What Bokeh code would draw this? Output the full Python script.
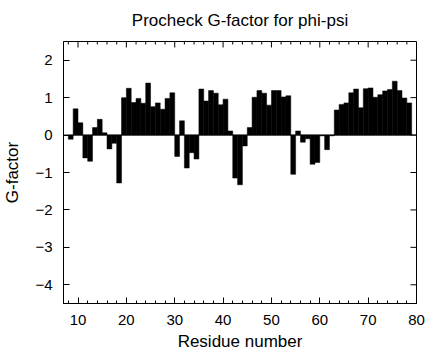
import math
from bokeh.plotting import figure
from bokeh.models import Range1d, FixedTicker, Span, ColumnDataSource
from bokeh.embed import file_html
from bokeh.resources import INLINE

# Residue numbers (each bar spans residue -> residue+1)
residues = list(range(8, 79))
# Procheck G-factor (phi-psi) per residue
gfactor = [
    -0.11, 0.70, 0.33, -0.61, -0.70, 0.20, 0.42, 0.06, -0.37, -0.22,
    -1.28, 1.00, 1.25, 0.87, 0.98, 0.85, 1.39, 0.76, 0.86, 0.69,
    0.98, 1.13, -0.57, 0.38, -0.88, -0.47, -0.64, 1.23, 0.91, 1.19,
    1.12, 0.81, 0.96, 0.11, -1.15, -1.33, -0.29, 0.20, 1.01, 1.19,
    1.12, 0.80, 1.19, 1.19, 1.02, 1.05, -1.05, 0.11, -0.19, -0.10,
    -0.78, -0.73, -0.02, -0.39, -0.02, 0.67, 0.82, 0.86, 1.13, 1.23,
    0.73, 1.24, 1.26, 1.01, 1.08, 1.18, 1.22, 1.44, 1.19, 0.99,
    0.86,
]
x_major = [10, 20, 30, 40, 50, 60, 70, 80]
x_minor = [8, 12, 14, 16, 18, 22, 24, 26, 28, 32, 34, 36, 38, 42, 44, 46, 48,
           52, 54, 56, 58, 62, 64, 66, 68, 72, 74, 76, 78]
y_ticks = [-4, -3, -2, -1, 0, 1, 2]
x_range = (7, 80)
y_range = (-4.5, 2.5)

FONT = "Liberation Sans"

p = figure(frame_width=353, frame_height=262, output_backend="svg",
           toolbar_location=None,
           x_range=Range1d(*x_range), y_range=Range1d(*y_range),
           min_border_left=54, min_border_right=9, min_border_top=40,
           min_border_bottom=50,
           x_axis_label="Residue number", y_axis_label="G-factor")

p.background_fill_color = "white"
p.border_fill_color = "white"
p.outline_line_color = "black"
p.outline_line_width = 1
p.grid.visible = False

p.title.text = "Procheck G-factor for phi-psi"
p.title.text_font = FONT
p.title.text_font_size = "17px"
p.title.text_font_style = "normal"
p.title.text_color = "black"
p.title.align = "center"
p.title.vertical_align = "top"
p.title.standoff = 20

src = ColumnDataSource(dict(left=residues,
                            right=[r + 1 for r in residues],
                            top=gfactor,
                            bottom=[0] * len(residues)))
p.quad(left="left", right="right", top="top", bottom="bottom", source=src,
       fill_color="black", line_color="black", line_width=0.5)

p.add_layout(Span(location=0, dimension="width", line_color="black", line_width=1))

def style_axis(ax):
    ax.axis_line_color = "black"
    ax.major_tick_in = 6
    ax.major_tick_out = 0
    ax.minor_tick_in = 3
    ax.minor_tick_out = 0
    ax.major_tick_line_color = "black"
    ax.minor_tick_line_color = "black"
    ax.major_label_text_font = FONT
    ax.major_label_text_font_size = "15px"
    ax.major_label_text_color = "black"
    ax.axis_label_text_font = FONT
    ax.axis_label_text_font_size = "17px"
    ax.axis_label_text_font_style = "normal"
    ax.axis_label_text_color = "black"

xa = p.xaxis[0]
xa.ticker = FixedTicker(ticks=x_major, minor_ticks=x_minor)
style_axis(xa)
xa.major_label_standoff = 11
xa.axis_label_standoff = 4

ya = p.yaxis[0]
ya.ticker = FixedTicker(ticks=y_ticks)
style_axis(ya)
ya.minor_tick_in = 0
ya.major_label_standoff = 11
ya.axis_label_standoff = 10

# mirrored tick marks on the top and right edges of the frame
p.ray(x=x_major, y=[y_range[1]] * len(x_major), length=6, length_units="screen",
      angle=-math.pi / 2, line_color="black", line_width=1)
p.ray(x=x_minor, y=[y_range[1]] * len(x_minor), length=3, length_units="screen",
      angle=-math.pi / 2, line_color="black", line_width=1)
p.ray(x=[x_range[1]] * len(y_ticks), y=y_ticks, length=6, length_units="screen",
      angle=math.pi, line_color="black", line_width=1)

open("out.html", "w").write(file_html(p, INLINE))
